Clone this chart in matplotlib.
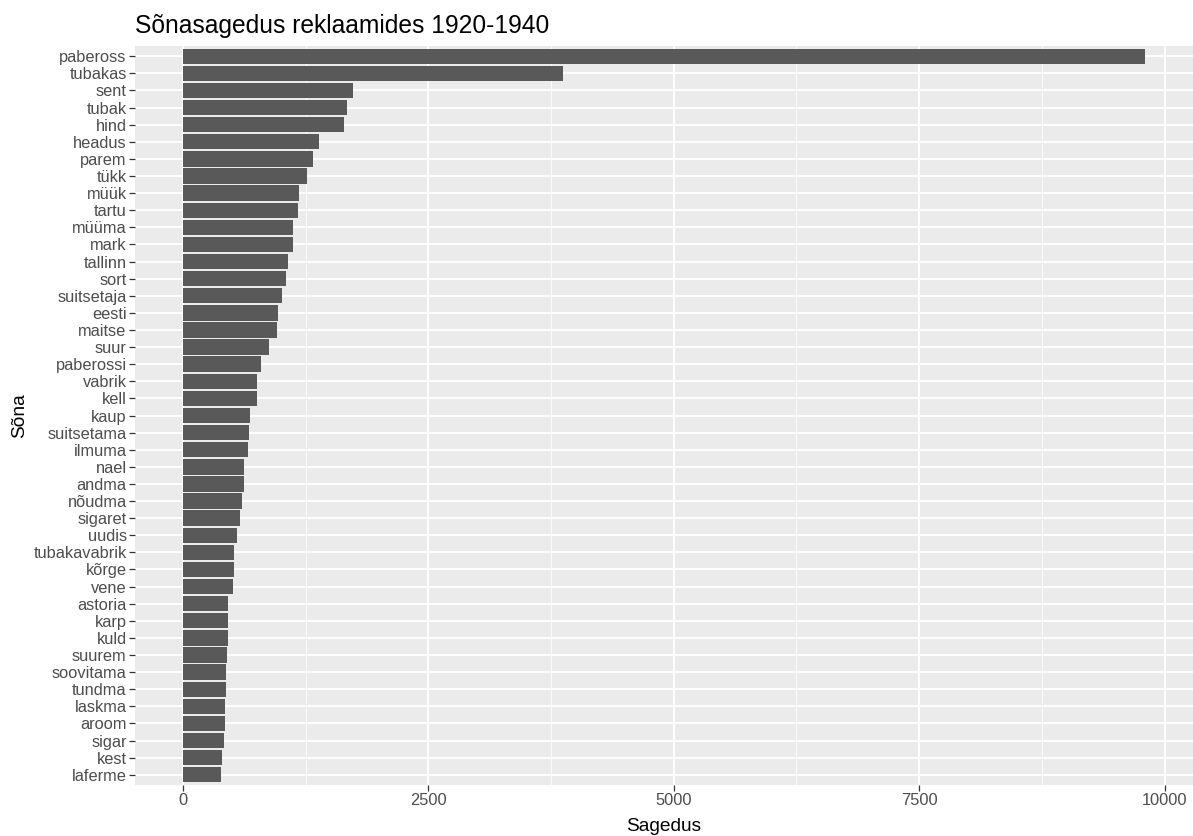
# -*- coding: utf-8 -*-

#
# Sõnasagedus reklaamides 1920-1940
#

import numpy as np
import matplotlib
matplotlib.use('Agg')
import matplotlib.pyplot as plt

plt.rcParams['font.family'] = ['Liberation Sans', 'DejaVu Sans']

# Words and frequencies (top to bottom)
words = ['pabeross', 'tubakas', 'sent', 'tubak', 'hind', 'headus', 'parem',
         'tükk', 'müük', 'tartu', 'müüma', 'mark', 'tallinn', 'sort',
         'suitsetaja', 'eesti', 'maitse', 'suur', 'paberossi', 'vabrik',
         'kell', 'kaup', 'suitsetama', 'ilmuma', 'nael', 'andma', 'nõudma',
         'sigaret', 'uudis', 'tubakavabrik', 'kõrge', 'vene', 'astoria',
         'karp', 'kuld', 'suurem', 'soovitama', 'tundma', 'laskma', 'aroom',
         'sigar', 'kest', 'laferme']
freq = [9800, 3870, 1733, 1665, 1638, 1383, 1325,
        1264, 1182, 1172, 1121, 1124, 1066, 1053,
        1009, 971, 961, 879, 798, 753,
        753, 682, 672, 658, 624, 624, 600,
        577, 553, 519, 519, 508, 461,
        461, 461, 447, 437, 437, 427, 427,
        416, 400, 390]
xticks = [0, 2500, 5000, 7500, 10000]

W, H = 1193, 836
fig = plt.figure(figsize=(W/100, H/100), dpi=100)
ax = fig.add_axes([135/W, 1-785/H, (W-135)/W, (785-46)/H])

n = len(words)
y = np.arange(n)[::-1]
ax.set_facecolor('#EBEBEB')
ax.barh(y, freq, height=0.9, color='#595959', zorder=3)

# ggplot-like expansion
xmax = max(freq)
ax.set_xlim(-0.05*xmax, 1.05*xmax)
ax.set_ylim(-0.6, n - 1 + 0.6)

ax.set_xticks(xticks)
ax.set_xticklabels([str(t) for t in xticks])
ax.set_xticks([1250, 3750, 6250, 8750], minor=True)
ax.set_yticks(y)
ax.set_yticklabels(words)

ax.grid(which='major', color='white', linewidth=1.3, zorder=1)
ax.grid(which='minor', axis='x', color='white', linewidth=0.6, zorder=1)
ax.tick_params(which='major', length=4, width=0.9, color='#333333',
               labelsize=11.8, labelcolor='#4D4D4D', pad=2)
ax.tick_params(which='minor', length=0)
for s in ax.spines.values():
    s.set_visible(False)

ax.set_xlabel('Sagedus', fontsize=13.8, color='black', labelpad=7)
ax.set_ylabel('Sõna', fontsize=13.8, color='black', labelpad=4)
ax.set_title('Sõnasagedus reklaamides 1920-1940', fontsize=17.7,
             loc='left', pad=9, x=0)

fig.savefig('out.png', dpi=100)
